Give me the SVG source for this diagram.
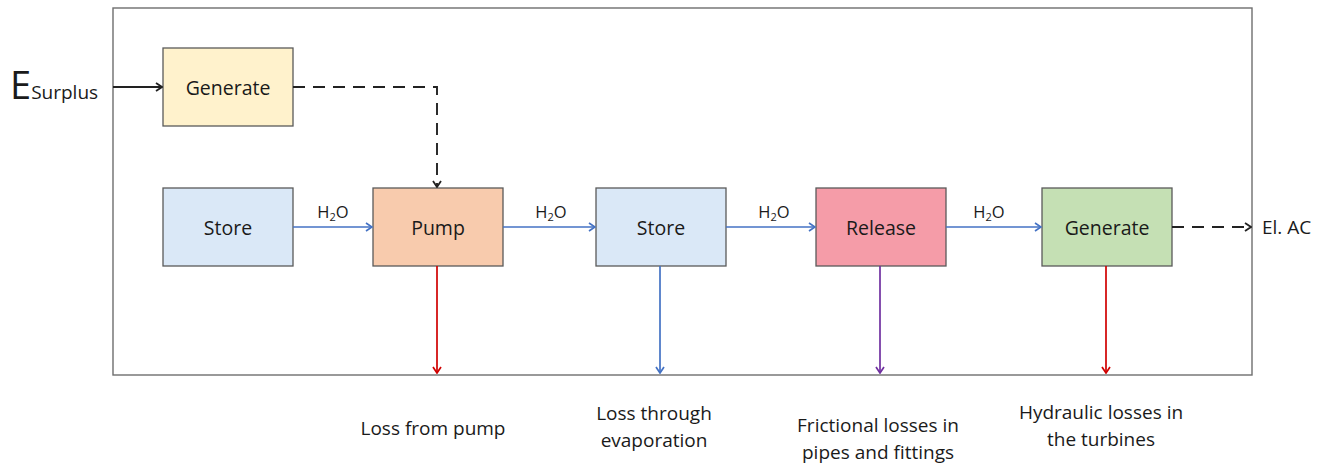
<svg xmlns="http://www.w3.org/2000/svg" width="1331" height="465" viewBox="0 0 1331 465">
  <style>
    text { font-family: "Open Sans", "Liberation Sans", sans-serif; fill: #1a1a1a; }
    .lbl { font-size: 19.5px; text-anchor: middle; dominant-baseline: central; }
    .loss { font-size: 19px; text-anchor: middle; dominant-baseline: central; }
    .sm { font-size: 16.5px; text-anchor: middle; }
    .box { stroke: #5a5a5a; stroke-width: 1.3; }
    .flow { stroke: #4472c4; stroke-width: 1.7; fill: none; }
    .dash { stroke: #222; stroke-width: 1.9; fill: none; stroke-dasharray: 12 8; }
  </style>
  <defs>
    <marker id="ahBlue" viewBox="0 0 10 10" refX="9" refY="5" markerWidth="10" markerHeight="10" markerUnits="userSpaceOnUse" orient="auto">
      <path d="M3 1 L9 5 L3 9" fill="none" stroke="#4472c4" stroke-width="1.7"/>
    </marker>
    <marker id="ahBlack" viewBox="0 0 10 10" refX="9" refY="5" markerWidth="10" markerHeight="10" markerUnits="userSpaceOnUse" orient="auto">
      <path d="M3 1 L9 5 L3 9" fill="none" stroke="#222" stroke-width="1.8"/>
    </marker>
    <marker id="ahRed" viewBox="0 0 10 10" refX="9" refY="5" markerWidth="10" markerHeight="10" markerUnits="userSpaceOnUse" orient="auto">
      <path d="M3 1 L9 5 L3 9" fill="none" stroke="#d00000" stroke-width="1.7"/>
    </marker>
    <marker id="ahPurple" viewBox="0 0 10 10" refX="9" refY="5" markerWidth="10" markerHeight="10" markerUnits="userSpaceOnUse" orient="auto">
      <path d="M3 1 L9 5 L3 9" fill="none" stroke="#7030a0" stroke-width="1.7"/>
    </marker>
  </defs>

  <rect width="1331" height="465" fill="#ffffff"/>
  <!-- system boundary -->
  <rect x="113" y="8" width="1139" height="367" fill="none" stroke="#6e6e6e" stroke-width="1.4"/>

  <!-- input label -->
  <text x="10" y="99" font-size="38">E<tspan font-size="19" dx="0">Surplus</tspan></text>

  <g id="generate-in">
    <rect class="box" x="163" y="48" width="130" height="78" fill="#fff2cc"/>
    <text class="lbl" x="228" y="87">Generate</text>
  </g>
  <g id="store-lower">
    <rect class="box" x="163" y="188" width="130" height="78" fill="#dae8f7"/>
    <text class="lbl" x="228" y="227">Store</text>
  </g>
  <g id="pump">
    <rect class="box" x="373" y="188" width="130" height="78" fill="#f8cbad"/>
    <text class="lbl" x="438" y="227">Pump</text>
  </g>
  <g id="store-upper">
    <rect class="box" x="596" y="188" width="130" height="78" fill="#dae8f7"/>
    <text class="lbl" x="661" y="227">Store</text>
  </g>
  <g id="release">
    <rect class="box" x="816" y="188" width="130" height="78" fill="#f59ca8"/>
    <text class="lbl" x="881" y="227">Release</text>
  </g>
  <g id="generate-out">
    <rect class="box" x="1042" y="188" width="130" height="78" fill="#c5e0b4"/>
    <text class="lbl" x="1107" y="227">Generate</text>
  </g>

  <g id="connectors">
    <line x1="113" y1="87" x2="162" y2="87" stroke="#222" stroke-width="1.8" marker-end="url(#ahBlack)"/>
    <path class="dash" d="M293 87 H437 V187" marker-end="url(#ahBlack)"/>
    <line class="flow" x1="293" y1="227" x2="372" y2="227" marker-end="url(#ahBlue)"/>
    <line class="flow" x1="503" y1="227" x2="595" y2="227" marker-end="url(#ahBlue)"/>
    <line class="flow" x1="726" y1="227" x2="815" y2="227" marker-end="url(#ahBlue)"/>
    <line class="flow" x1="946" y1="227" x2="1041" y2="227" marker-end="url(#ahBlue)"/>
    <line class="dash" x1="1172" y1="227" x2="1251" y2="227" marker-end="url(#ahBlack)"/>
    <line x1="437" y1="266" x2="437" y2="373" stroke="#d00000" stroke-width="1.7" marker-end="url(#ahRed)"/>
    <line class="flow" x1="660" y1="266" x2="660" y2="373" marker-end="url(#ahBlue)"/>
    <line x1="880" y1="266" x2="880" y2="373" stroke="#7030a0" stroke-width="1.7" marker-end="url(#ahPurple)"/>
    <line x1="1106" y1="266" x2="1106" y2="373" stroke="#d00000" stroke-width="1.7" marker-end="url(#ahRed)"/>
  </g>

  <!-- flow labels -->
  <text class="sm" x="333" y="218">H<tspan font-size="11" dy="3">2</tspan><tspan dy="-3">O</tspan></text>
  <text class="sm" x="551" y="218">H<tspan font-size="11" dy="3">2</tspan><tspan dy="-3">O</tspan></text>
  <text class="sm" x="774" y="218">H<tspan font-size="11" dy="3">2</tspan><tspan dy="-3">O</tspan></text>
  <text class="sm" x="989" y="218">H<tspan font-size="11" dy="3">2</tspan><tspan dy="-3">O</tspan></text>
  <text x="1262" y="234" font-size="19">El. AC</text>

  <!-- loss labels -->
  <text class="loss" x="433" y="428">Loss from pump</text>
  <text class="loss" x="654" y="413">Loss through</text>
  <text class="loss" x="654" y="440">evaporation</text>
  <text class="loss" x="878" y="425">Frictional losses in</text>
  <text class="loss" x="878" y="452">pipes and fittings</text>
  <text class="loss" x="1101" y="412">Hydraulic losses in</text>
  <text class="loss" x="1101" y="439">the turbines</text>
</svg>
